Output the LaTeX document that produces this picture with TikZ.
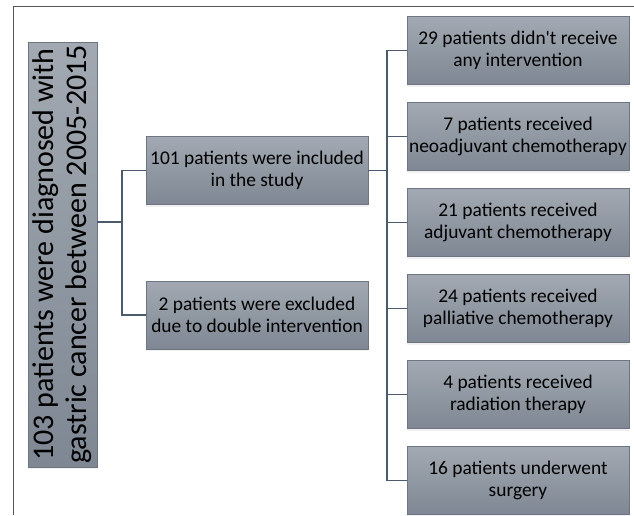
\documentclass[tikz,border=0pt]{standalone}
\usepackage{fontspec}
\setmainfont{Carlito}
\usetikzlibrary{shadows}
\definecolor{boxtop}{HTML}{A2A9B2}
\definecolor{boxbot}{HTML}{7E8793}
\definecolor{boxline}{HTML}{6C7581}
\definecolor{conn}{HTML}{4C5B6B}
\definecolor{frame}{HTML}{555555}
\begin{document}
\begin{tikzpicture}[x=1pt,y=-1pt,
  box/.style={draw=boxline, line width=0.8pt, top color=boxtop, bottom color=boxbot,
    minimum width=222pt, minimum height=68pt, inner sep=1pt, align=center,
    font=\fontsize{19.4}{21.5}\selectfont, text=black,
    drop shadow={opacity=0.12, shadow xshift=0pt, shadow yshift=-2pt}},
  rootbox/.style={box, minimum width=425pt, minimum height=69pt,
    font=\fontsize{30}{33}\selectfont},
  link/.style={draw=conn, line width=1.1pt}]
\useasboundingbox (0,0) rectangle (634,515);
\draw[frame, line width=0.8pt] (13,515) -- (13,6) -- (634,6);
\node[rootbox, rotate=90] (root) at (62.5,254.5) {103 patients were diagnosed with\\gastric cancer between 2005-2015};
\node[box] (inc) at (257,170.5) {101 patients were included\\in the study};
\node[box] (exc) at (257,315) {2 patients were excluded\\due to double intervention};
\node[box] (r1) at (518,50.5) {29 patients didn\textquotesingle t receive\\any intervention};
\node[box] (r2) at (518,136.5) {7 patients received\\neoadjuvant chemotherapy};
\node[box] (r3) at (518,222.5) {21 patients received\\adjuvant chemotherapy};
\node[box] (r4) at (518,308.5) {24 patients received\\palliative chemotherapy};
\node[box] (r5) at (518,394.5) {4 patients received\\radiation therapy};
\node[box] (r6) at (518,480.5) {16 patients underwent\\surgery};
\coordinate (j1) at (122,222);
\coordinate (j2) at (387,170.5);
\draw[link] (root.south |- j1) -- (j1);
\draw[link] (inc.west) -| (j1) |- (exc.west);
\draw[link] (inc.east) -- (j2);
\draw[link] (r1.west) -| (j2) |- (r6.west);
\foreach \n in {r2,r3,r4,r5} \draw[link] (\n.west) -- (\n.west -| j2);
\end{tikzpicture}
\end{document}
